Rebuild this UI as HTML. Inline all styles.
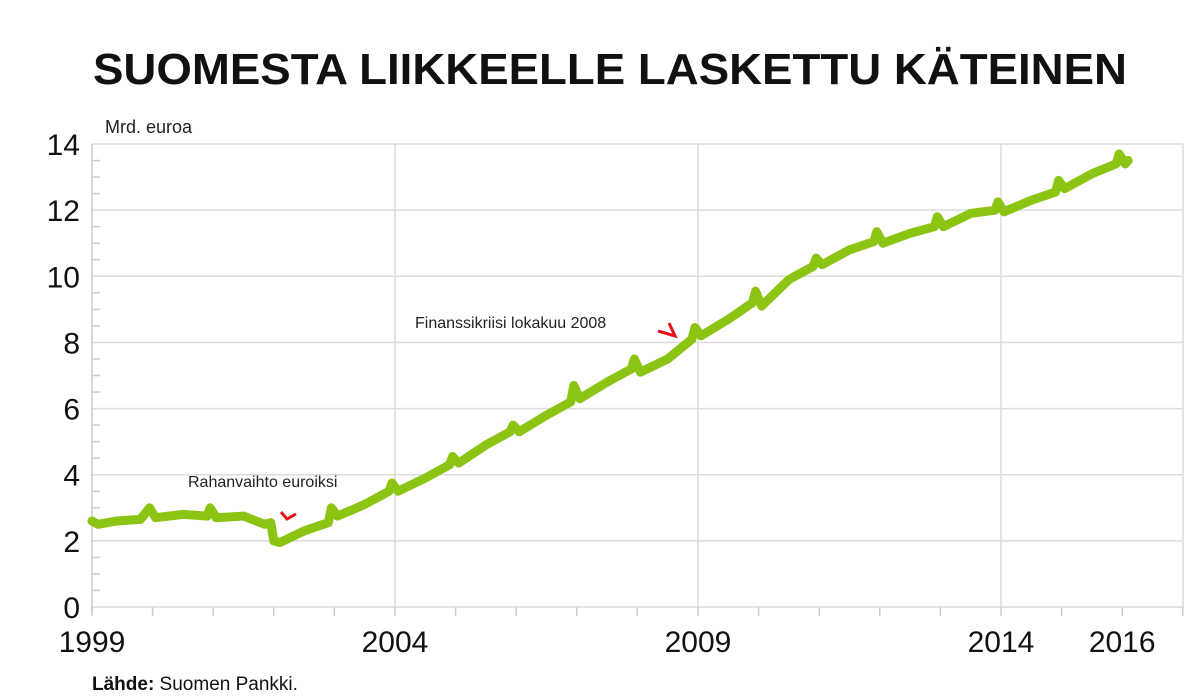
<!DOCTYPE html>
<html><head><meta charset="utf-8"><style>
body{margin:0;background:#fff;}
svg{display:block;font-family:"Liberation Sans",sans-serif;}
</style></head><body>
<svg id="chart" width="1198" height="699" viewBox="0 0 1198 699">
<text x="93" y="84" font-size="44" font-weight="bold" fill="#111" textLength="1034" lengthAdjust="spacingAndGlyphs">SUOMESTA LIIKKEELLE LASKETTU KÄTEINEN</text>
<text x="105" y="133" font-size="18" fill="#222">Mrd. euroa</text>
<g id="grid"></g>
<g id="axes"></g>
<g id="series"></g>
<text x="188" y="487" font-size="16" fill="#222">Rahanvaihto euroiksi</text>
<path d="M281,512 L287,519 L296,514" stroke="#e8101a" stroke-width="3" fill="none"/>
<text x="415" y="328" font-size="16" fill="#222">Finanssikriisi lokakuu 2008</text>
<path d="M658,331 L675,336 L669,323" stroke="#e8101a" stroke-width="3" fill="none"/>
<text x="92" y="690" font-size="19" fill="#111"><tspan font-weight="bold">Lähde:</tspan> Suomen Pankki.</text>
</svg>
<script>
const dates=[1999.0,1999.1,1999.4,1999.8,1999.95,2000.05,2000.5,2000.9,2000.95,2001.05,2001.5,2001.85,2001.95,2002.0,2002.1,2002.5,2002.9,2002.95,2003.05,2003.5,2003.9,2003.95,2004.05,2004.5,2004.9,2004.95,2005.05,2005.5,2005.9,2005.95,2006.05,2006.5,2006.9,2006.95,2007.05,2007.5,2007.9,2007.95,2008.05,2008.5,2008.9,2008.95,2009.05,2009.5,2009.9,2009.95,2010.05,2010.5,2010.9,2010.95,2011.05,2011.5,2011.9,2011.95,2012.05,2012.5,2012.9,2012.95,2013.05,2013.5,2013.9,2013.95,2014.05,2014.5,2014.9,2014.95,2015.05,2015.5,2015.9,2015.95,2016.05,2016.1];
const values=[2.6,2.5,2.6,2.65,3.0,2.7,2.8,2.75,3.0,2.7,2.75,2.5,2.55,2.0,1.95,2.3,2.55,3.0,2.75,3.1,3.5,3.75,3.5,3.9,4.3,4.55,4.35,4.9,5.3,5.5,5.3,5.8,6.2,6.7,6.3,6.8,7.2,7.5,7.1,7.5,8.1,8.45,8.2,8.7,9.2,9.55,9.1,9.9,10.3,10.55,10.35,10.8,11.05,11.35,11.0,11.3,11.5,11.8,11.5,11.9,12.0,12.25,11.95,12.3,12.55,12.9,12.65,13.1,13.4,13.7,13.4,13.5];
const yTicks=[0,2,4,6,8,10,12,14];
const xLabels=[1999,2004,2009,2014,2016];
const xGridYears=[2004,2009,2014];
const NS='http://www.w3.org/2000/svg';
const X=y=>92+(y-1999)*60.6;
const Y=v=>607-v*33.07;
function mk(tag,attrs,parent){const e=document.createElementNS(NS,tag);for(const k in attrs)e.setAttribute(k,attrs[k]);parent.appendChild(e);return e;}
const grid=document.getElementById('grid'),axes=document.getElementById('axes'),series=document.getElementById('series');
yTicks.forEach(v=>{
 const l=mk('line',{x1:92,x2:1183,y1:Y(v),y2:Y(v),stroke:'#dcdcdc','stroke-width':1.5},grid);
 
 
 const t=mk('text',{x:80,y:Y(v)+11,'font-size':30,'text-anchor':'end',fill:'#111'},axes);
 t.textContent=v;
 
 
});
for(let v=0;v<14;v+=0.5){if(v%2===0)continue;
 const m=mk('line',{x1:92,x2:100,y1:Y(v),y2:Y(v),stroke:'#ccc','stroke-width':1.5},grid);
 
 }
xGridYears.forEach(yr=>{
 const l=mk('line',{x1:X(yr),x2:X(yr),y1:Y(14),y2:Y(0),stroke:'#dcdcdc','stroke-width':1.5},grid);
 
 
});
const rb=mk('line',{x1:1183,x2:1183,y1:Y(14),y2:Y(0),stroke:'#dcdcdc','stroke-width':1.5},grid);


for(let yr=1999;yr<=2017;yr++){
 const t=mk('line',{x1:X(yr),x2:X(yr),y1:607,y2:616,stroke:'#ccc','stroke-width':1.5},grid);
 
 
}
const ax=mk('line',{x1:92,x2:92,y1:Y(14),y2:612,stroke:'#ccc','stroke-width':1.5},axes);


xLabels.forEach(yr=>{
 const t=mk('text',{x:X(yr),y:652,'font-size':30,'text-anchor':'middle',fill:'#111'},axes);
 t.textContent=yr;
 
 
});
const p=mk('polyline',{points:dates.map((d,i)=>X(d)+','+Y(values[i])).join(' '),fill:'none',stroke:'#8cc414','stroke-width':9,'stroke-linejoin':'round','stroke-linecap':'round'},series);


</script>
</body></html>
